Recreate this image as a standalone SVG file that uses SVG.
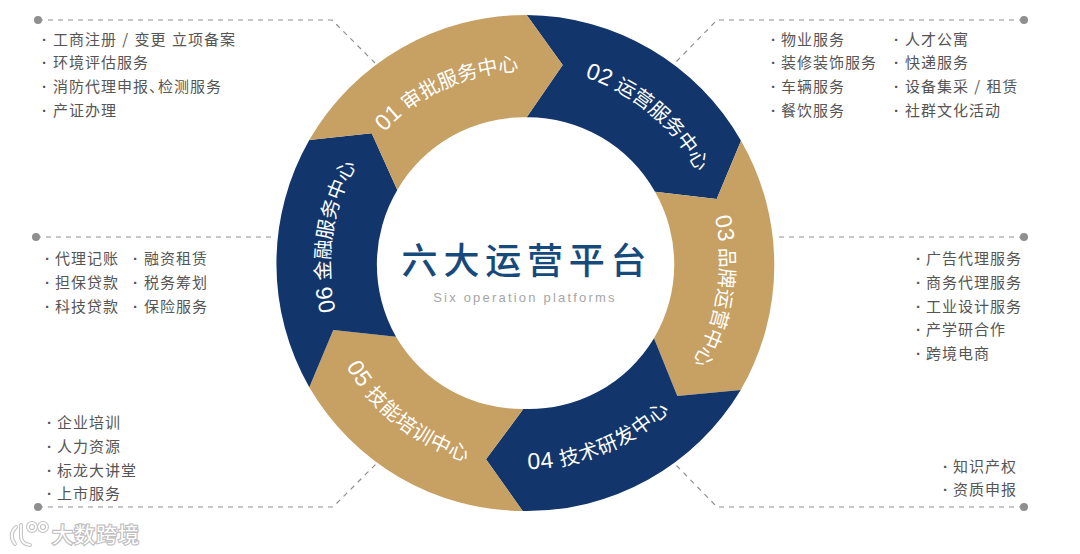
<svg xmlns="http://www.w3.org/2000/svg" width="1080" height="554" viewBox="0 0 1080 554">
<style>
text{font-family:"Noto Sans CJK SC","Liberation Sans",sans-serif}
.gold{fill:#c7a063}
.navy{fill:#12366b}
.seg{font-family:"Liberation Sans","Noto Sans CJK SC",sans-serif;font-size:20px;fill:#fff}
.wide{letter-spacing:.7px}
.num{font-size:23px}
.item{font-size:15px;letter-spacing:1px;word-spacing:1px;fill:#555}
.b{font-family:"Liberation Sans",sans-serif;font-weight:bold}
.lead{fill:none;stroke:#8f8f8f;stroke-width:1.2;stroke-dasharray:5 5}
.dot{fill:#8f8f8f}
.wm{font-size:21px;fill:#fff;stroke:#c0c0c0;stroke-width:2.4;paint-order:stroke;letter-spacing:1px}
.wo{fill:none;stroke:#c4c4c4;stroke-width:4;stroke-linecap:round}
.wi{fill:none;stroke:#fff;stroke-width:1.8;stroke-linecap:round}
</style>
<defs>
<path id="p1" d="M333.9 244.6A192 192 0 0 1 636.5 106.7"/>
<path id="p2" d="M458.4 79.7A195 195 0 0 1 717 297"/>
<path id="p3" d="M646.7 110.2A196 196 0 0 1 596.8 445.2"/>
<path id="p4" d="M402.5 428.2A206 206 0 0 0 729.6 292.7"/>
<path id="p5" d="M320.5 233A207 207 0 0 0 602.5 455"/>
<path id="p6" d="M404.9 416.7A195 195 0 0 1 452 82.2"/>
</defs>
<rect width="1080" height="554" fill="#fff"/>
<g id="connectors">
<path class="lead" d="M38 20H332L375 63"/>
<path class="lead" d="M1024 20H717L675 63"/>
<path class="lead" d="M36 237H276"/>
<path class="lead" d="M1024 237H775"/>
<path class="lead" d="M38 507H333L376 464"/>
<path class="lead" d="M1024 507H717L675 464"/>
<circle class="dot" cx="38" cy="20" r="4"/>
<circle class="dot" cx="1024" cy="20" r="4"/>
<circle class="dot" cx="36" cy="237" r="4"/>
<circle class="dot" cx="1024" cy="237" r="4"/>
<circle class="dot" cx="38" cy="507" r="4"/>
<circle class="dot" cx="1024" cy="507" r="4"/>
</g>
<g id="seg-02">
<path class="navy" d="M526.7 15A249 249 0 0 1 741 140.7L716.7 199L655 191.7A146 146 0 0 0 526.7 117.3L562.7 65Z"/>
<text class="seg"><textPath href="#p2" startOffset="50%" text-anchor="middle"><tspan class="num">02</tspan> 运营服务中心</textPath></text>
</g>
<g id="seg-03">
<path class="gold" d="M741 140.7A249 249 0 0 1 740.7 390L677.3 396L654 338.3A146 146 0 0 0 655 191.7L716.7 199Z"/>
<text class="seg"><textPath href="#p3" startOffset="50%" text-anchor="middle"><tspan class="num">03</tspan> 品牌运营中心</textPath></text>
</g>
<g id="seg-04">
<path class="navy" d="M740.7 390A249 249 0 0 1 522.7 511L486 459.3L523.3 409A146 146 0 0 0 654 338.3L677.3 396Z"/>
<text class="seg wide"><textPath href="#p4" startOffset="50%" text-anchor="middle"><tspan class="num">04</tspan> 技术研发中心</textPath></text>
</g>
<g id="seg-05">
<path class="gold" d="M522.7 511A249 249 0 0 1 309.3 387.3L333.3 330L396 336.7A146 146 0 0 0 523.3 409L486 459.3Z"/>
<text class="seg wide"><textPath href="#p5" startOffset="50%" text-anchor="middle"><tspan class="num">05</tspan> 技能培训中心</textPath></text>
</g>
<g id="seg-06">
<path class="navy" d="M309.3 387.3A249 249 0 0 1 309.3 140L371.7 133.3L397.3 190A146 146 0 0 0 396 336.7L333.3 330Z"/>
<text class="seg"><textPath href="#p6" startOffset="50%" text-anchor="middle"><tspan class="num">06</tspan> 金融服务中心</textPath></text>
</g>
<g id="seg-01">
<path class="gold" d="M309.3 140A249 249 0 0 1 526.7 15L562.7 65L526.7 117.3A146 146 0 0 0 397.3 190L371.7 133.3Z"/>
<text class="seg"><textPath href="#p1" startOffset="50%" text-anchor="middle"><tspan class="num">01</tspan> 审批服务中心</textPath></text>
</g>
<g id="center">
<text x="527" y="274" text-anchor="middle" font-size="36" font-weight="500" letter-spacing="5.8" fill="#174a7c">六大运营平台</text>
<text x="525" y="302" text-anchor="middle" font-size="13" letter-spacing="2.2" fill="#a6a6a6" style="font-family:'Liberation Sans',sans-serif">Six operation platforms</text>
</g>
<g id="list-01">
<text class="item" y="45"><tspan class="b" x="42">·</tspan><tspan x="53">工商注册 / 变更 立项备案</tspan></text>
<text class="item" y="68"><tspan class="b" x="42">·</tspan><tspan x="53">环境评估服务</tspan></text>
<text class="item" y="92"><tspan class="b" x="42">·</tspan><tspan x="53">消防代理申报、</tspan><tspan dx="-7">检测服务</tspan></text>
<text class="item" y="116"><tspan class="b" x="42">·</tspan><tspan x="53">产证办理</tspan></text>
</g>
<g id="list-02">
<text class="item" y="45"><tspan class="b" x="771">·</tspan><tspan x="781">物业服务</tspan></text>
<text class="item" y="68"><tspan class="b" x="771">·</tspan><tspan x="781">装修装饰服务</tspan></text>
<text class="item" y="92"><tspan class="b" x="771">·</tspan><tspan x="781">车辆服务</tspan></text>
<text class="item" y="116"><tspan class="b" x="771">·</tspan><tspan x="781">餐饮服务</tspan></text>
<text class="item" y="45"><tspan class="b" x="894">·</tspan><tspan x="905">人才公寓</tspan></text>
<text class="item" y="68"><tspan class="b" x="894">·</tspan><tspan x="905">快递服务</tspan></text>
<text class="item" y="92"><tspan class="b" x="894">·</tspan><tspan x="905">设备集采 / 租赁</tspan></text>
<text class="item" y="116"><tspan class="b" x="894">·</tspan><tspan x="905">社群文化活动</tspan></text>
</g>
<g id="list-03">
<text class="item" y="264"><tspan class="b" x="916">·</tspan><tspan x="926">广告代理服务</tspan></text>
<text class="item" y="288"><tspan class="b" x="916">·</tspan><tspan x="926">商务代理服务</tspan></text>
<text class="item" y="312"><tspan class="b" x="916">·</tspan><tspan x="926">工业设计服务</tspan></text>
<text class="item" y="335"><tspan class="b" x="916">·</tspan><tspan x="926">产学研合作</tspan></text>
<text class="item" y="359"><tspan class="b" x="916">·</tspan><tspan x="926">跨境电商</tspan></text>
</g>
<g id="list-04">
<text class="item" y="472"><tspan class="b" x="943">·</tspan><tspan x="953">知识产权</tspan></text>
<text class="item" y="495"><tspan class="b" x="943">·</tspan><tspan x="953">资质申报</tspan></text>
</g>
<g id="list-05">
<text class="item" y="428"><tspan class="b" x="47">·</tspan><tspan x="57">企业培训</tspan></text>
<text class="item" y="452"><tspan class="b" x="47">·</tspan><tspan x="57">人力资源</tspan></text>
<text class="item" y="476"><tspan class="b" x="47">·</tspan><tspan x="57">标龙大讲堂</tspan></text>
<text class="item" y="499"><tspan class="b" x="47">·</tspan><tspan x="57">上市服务</tspan></text>
</g>
<g id="list-06">
<text class="item" y="264"><tspan class="b" x="45">·</tspan><tspan x="55">代理记账</tspan></text>
<text class="item" y="288"><tspan class="b" x="45">·</tspan><tspan x="55">担保贷款</tspan></text>
<text class="item" y="312"><tspan class="b" x="45">·</tspan><tspan x="55">科技贷款</tspan></text>
<text class="item" y="264"><tspan class="b" x="133">·</tspan><tspan x="144">融资租赁</tspan></text>
<text class="item" y="288"><tspan class="b" x="133">·</tspan><tspan x="144">税务筹划</tspan></text>
<text class="item" y="312"><tspan class="b" x="133">·</tspan><tspan x="144">保险服务</tspan></text>
</g>
<g id="watermark">
<path class="wo" d="M16 527Q8 535 15 544M21 525V536Q21 544 30 545"/>
<circle class="wo" cx="32" cy="527" r="4"/>
<circle class="wo" cx="43" cy="527" r="4"/>
<path class="wi" d="M16 527Q8 535 15 544M21 525V536Q21 544 30 545"/>
<circle class="wi" cx="32" cy="527" r="4"/>
<circle class="wi" cx="43" cy="527" r="4"/>
<text class="wm" x="52" y="542">大数跨境</text>
</g>
</svg>
